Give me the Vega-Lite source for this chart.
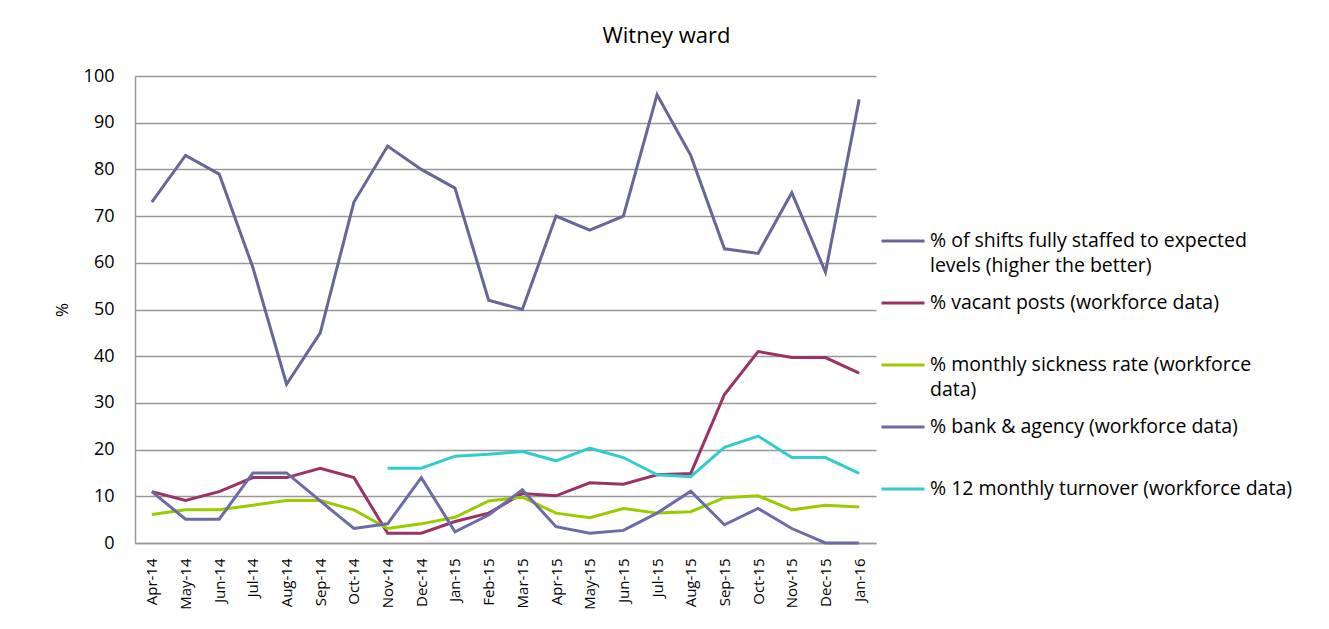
{
  "$schema": "https://vega.github.io/schema/vega-lite/v6.json",
  "width": 741,
  "height": 467,
  "autosize": {"type": "none"},
  "padding": {"left": 135, "top": 76, "right": 453, "bottom": 86},
  "background": "white",
  "title": {
    "text": "Witney ward",
    "font": "Open Sans",
    "fontSize": 22,
    "fontWeight": "normal",
    "color": "#000000",
    "anchor": "middle",
    "dx": 161,
    "baseline": "alphabetic",
    "offset": 2
  },
  "config": {
    "view": {"stroke": null},
    "font": "Open Sans"
  },
  "datasets": {
    "rows": [
      {"month": "Apr-14", "series": "shifts", "value": 73},
      {"month": "May-14", "series": "shifts", "value": 83},
      {"month": "Jun-14", "series": "shifts", "value": 79},
      {"month": "Jul-14", "series": "shifts", "value": 59},
      {"month": "Aug-14", "series": "shifts", "value": 34},
      {"month": "Sep-14", "series": "shifts", "value": 45},
      {"month": "Oct-14", "series": "shifts", "value": 73},
      {"month": "Nov-14", "series": "shifts", "value": 85},
      {"month": "Dec-14", "series": "shifts", "value": 80},
      {"month": "Jan-15", "series": "shifts", "value": 76},
      {"month": "Feb-15", "series": "shifts", "value": 52},
      {"month": "Mar-15", "series": "shifts", "value": 50},
      {"month": "Apr-15", "series": "shifts", "value": 70},
      {"month": "May-15", "series": "shifts", "value": 67},
      {"month": "Jun-15", "series": "shifts", "value": 70},
      {"month": "Jul-15", "series": "shifts", "value": 96},
      {"month": "Aug-15", "series": "shifts", "value": 83},
      {"month": "Sep-15", "series": "shifts", "value": 63},
      {"month": "Oct-15", "series": "shifts", "value": 62},
      {"month": "Nov-15", "series": "shifts", "value": 75},
      {"month": "Dec-15", "series": "shifts", "value": 58},
      {"month": "Jan-16", "series": "shifts", "value": 95},

      {"month": "Apr-14", "series": "vacant", "value": 11},
      {"month": "May-14", "series": "vacant", "value": 9.1},
      {"month": "Jun-14", "series": "vacant", "value": 11},
      {"month": "Jul-14", "series": "vacant", "value": 14},
      {"month": "Aug-14", "series": "vacant", "value": 14},
      {"month": "Sep-14", "series": "vacant", "value": 16},
      {"month": "Oct-14", "series": "vacant", "value": 14},
      {"month": "Nov-14", "series": "vacant", "value": 2.1},
      {"month": "Dec-14", "series": "vacant", "value": 2.1},
      {"month": "Jan-15", "series": "vacant", "value": 4.6},
      {"month": "Feb-15", "series": "vacant", "value": 6.4},
      {"month": "Mar-15", "series": "vacant", "value": 10.6},
      {"month": "Apr-15", "series": "vacant", "value": 10.1},
      {"month": "May-15", "series": "vacant", "value": 12.9},
      {"month": "Jun-15", "series": "vacant", "value": 12.6},
      {"month": "Jul-15", "series": "vacant", "value": 14.6},
      {"month": "Aug-15", "series": "vacant", "value": 14.9},
      {"month": "Sep-15", "series": "vacant", "value": 31.8},
      {"month": "Oct-15", "series": "vacant", "value": 41},
      {"month": "Nov-15", "series": "vacant", "value": 39.7},
      {"month": "Dec-15", "series": "vacant", "value": 39.7},
      {"month": "Jan-16", "series": "vacant", "value": 36.4},

      {"month": "Apr-14", "series": "sickness", "value": 6.1},
      {"month": "May-14", "series": "sickness", "value": 7.1},
      {"month": "Jun-14", "series": "sickness", "value": 7.1},
      {"month": "Jul-14", "series": "sickness", "value": 8.1},
      {"month": "Aug-14", "series": "sickness", "value": 9.1},
      {"month": "Sep-14", "series": "sickness", "value": 9.1},
      {"month": "Oct-14", "series": "sickness", "value": 7.1},
      {"month": "Nov-14", "series": "sickness", "value": 3.1},
      {"month": "Dec-14", "series": "sickness", "value": 4.1},
      {"month": "Jan-15", "series": "sickness", "value": 5.5},
      {"month": "Feb-15", "series": "sickness", "value": 9},
      {"month": "Mar-15", "series": "sickness", "value": 9.8},
      {"month": "Apr-15", "series": "sickness", "value": 6.4},
      {"month": "May-15", "series": "sickness", "value": 5.4},
      {"month": "Jun-15", "series": "sickness", "value": 7.4},
      {"month": "Jul-15", "series": "sickness", "value": 6.4},
      {"month": "Aug-15", "series": "sickness", "value": 6.7},
      {"month": "Sep-15", "series": "sickness", "value": 9.7},
      {"month": "Oct-15", "series": "sickness", "value": 10.1},
      {"month": "Nov-15", "series": "sickness", "value": 7.1},
      {"month": "Dec-15", "series": "sickness", "value": 8.1},
      {"month": "Jan-16", "series": "sickness", "value": 7.7},

      {"month": "Apr-14", "series": "bank", "value": 11},
      {"month": "May-14", "series": "bank", "value": 5.1},
      {"month": "Jun-14", "series": "bank", "value": 5.1},
      {"month": "Jul-14", "series": "bank", "value": 15},
      {"month": "Aug-14", "series": "bank", "value": 15},
      {"month": "Sep-14", "series": "bank", "value": 9},
      {"month": "Oct-14", "series": "bank", "value": 3.1},
      {"month": "Nov-14", "series": "bank", "value": 4.1},
      {"month": "Dec-14", "series": "bank", "value": 14},
      {"month": "Jan-15", "series": "bank", "value": 2.4},
      {"month": "Feb-15", "series": "bank", "value": 6},
      {"month": "Mar-15", "series": "bank", "value": 11.4},
      {"month": "Apr-15", "series": "bank", "value": 3.5},
      {"month": "May-15", "series": "bank", "value": 2.1},
      {"month": "Jun-15", "series": "bank", "value": 2.7},
      {"month": "Jul-15", "series": "bank", "value": 6.4},
      {"month": "Aug-15", "series": "bank", "value": 11.1},
      {"month": "Sep-15", "series": "bank", "value": 3.9},
      {"month": "Oct-15", "series": "bank", "value": 7.4},
      {"month": "Nov-15", "series": "bank", "value": 3.1},
      {"month": "Dec-15", "series": "bank", "value": 0},
      {"month": "Jan-16", "series": "bank", "value": 0},

      {"month": "Nov-14", "series": "turnover", "value": 16},
      {"month": "Dec-14", "series": "turnover", "value": 16},
      {"month": "Jan-15", "series": "turnover", "value": 18.6},
      {"month": "Feb-15", "series": "turnover", "value": 19},
      {"month": "Mar-15", "series": "turnover", "value": 19.6},
      {"month": "Apr-15", "series": "turnover", "value": 17.6},
      {"month": "May-15", "series": "turnover", "value": 20.3},
      {"month": "Jun-15", "series": "turnover", "value": 18.3},
      {"month": "Jul-15", "series": "turnover", "value": 14.6},
      {"month": "Aug-15", "series": "turnover", "value": 14.2},
      {"month": "Sep-15", "series": "turnover", "value": 20.5},
      {"month": "Oct-15", "series": "turnover", "value": 22.9},
      {"month": "Nov-15", "series": "turnover", "value": 18.3},
      {"month": "Dec-15", "series": "turnover", "value": 18.3},
      {"month": "Jan-16", "series": "turnover", "value": 14.9}
    ]
  },
  "data": {"name": "rows"},
  "mark": {"type": "line", "strokeWidth": 3},
  "encoding": {
    "x": {
      "field": "month",
      "type": "ordinal",
      "sort": ["Apr-14","May-14","Jun-14","Jul-14","Aug-14","Sep-14","Oct-14","Nov-14","Dec-14","Jan-15","Feb-15","Mar-15","Apr-15","May-15","Jun-15","Jul-15","Aug-15","Sep-15","Oct-15","Nov-15","Dec-15","Jan-16"],
      "scale": {"type": "point", "padding": 0.5},
      "axis": {
        "title": null,
        "labelAngle": -90,
        "labelAlign": "right",
        "labelBaseline": "middle",
        "labelFontSize": 15,
        "labelColor": "#000000",
        "labelPadding": 15,
        "ticks": false,
        "grid": false,
        "domainColor": "#999999",
        "domainWidth": 1.5
      }
    },
    "y": {
      "field": "value",
      "type": "quantitative",
      "scale": {"domain": [0, 100], "nice": false},
      "axis": {
        "title": "%",
        "titleFontSize": 17,
        "titleFontWeight": "normal",
        "titleColor": "#000000",
        "titlePadding": 12,
        "values": [0,10,20,30,40,50,60,70,80,90,100],
        "labelFontSize": 18,
        "labelColor": "#000000",
        "labelPadding": 21,
        "ticks": false,
        "grid": true,
        "gridColor": "#999999",
        "gridWidth": 1.5,
        "domainColor": "#999999",
        "domainWidth": 1.5
      }
    },
    "color": {
      "field": "series",
      "type": "nominal",
      "scale": {
        "domain": ["shifts", "vacant", "sickness", "bank", "turnover"],
        "range": ["#666699", "#993366", "#99CC00", "#6B6BA6", "#33CCCC"]
      },
      "legend": {
        "title": null,
        "orient": "none",
        "legendX": 745,
        "legendY": 142,
        "padding": 0,
        "symbolType": "stroke",
        "symbolSize": 1849,
        "symbolStrokeWidth": 3,
        "labelOffset": 4,
        "labelFontSize": 19.5,
        "labelColor": "#000000",
        "labelLimit": 500,
        "labelBaseline": "middle",
        "rowPadding": 4,
        "encode": {
          "labels": {"update": {"lineHeight": {"value": 25}}}
        },
        "labelExpr": "datum.label == 'shifts' ? ['% of shifts fully staffed to expected', 'levels (higher the better)'] : datum.label == 'vacant' ? ['% vacant posts (workforce data)', ''] : datum.label == 'sickness' ? ['% monthly sickness rate (workforce', 'data)'] : datum.label == 'bank' ? [' % bank & agency (workforce data)', ''] : ['% 12 monthly turnover (workforce data)', '']"
      }
    }
  }
}
